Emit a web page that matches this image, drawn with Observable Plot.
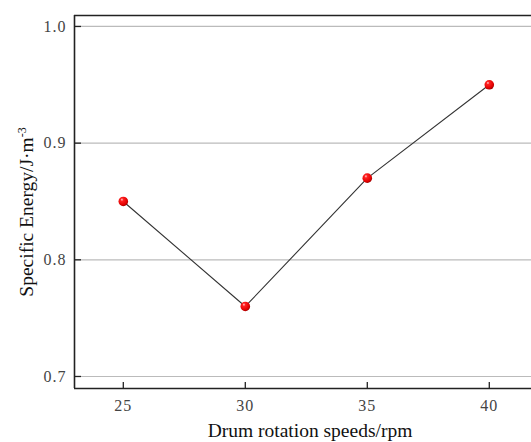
<!DOCTYPE html>
<html><head><meta charset="utf-8">
<script src="https://cdn.jsdelivr.net/npm/d3@7"></script>
<script src="https://cdn.jsdelivr.net/npm/@observablehq/plot@0.6"></script>
<style>body{margin:0;background:#fff}</style>
</head><body><div id="chart"></div>
<script>
const speeds = [25, 30, 35, 40];
const energy = [0.85, 0.76, 0.87, 0.95];
const yTicks = [0.7, 0.8, 0.9, 1.0];
const xTicks = [25, 30, 35, 40];
const xLabel = "Drum rotation speeds/rpm";
const yLabelMain = "Specific Energy/J·m";
const yLabelSup = "-3";

const data = speeds.map((s, i) => ({speed: s, energy: energy[i]}));
const xDomain = [23, 41.73];
const yDomain = [0.6897, 1.0094];
const font = "'Liberation Serif', 'DejaVu Serif', serif";

const plot = Plot.plot({
  width: 531, height: 442,
  marginLeft: 74, marginTop: 15, marginBottom: 54, marginRight: 0,
  style: {fontFamily: font, fontSize: "16px", color: "#333", background: "#fff"},
  x: {domain: xDomain},
  y: {domain: yDomain},
  marks: [
    Plot.gridY(yTicks, {stroke: "#bbb", strokeOpacity: 1, strokeWidth: 1.2}),
    Plot.axisY(yTicks, {tickSize: -7, tickPadding: 15, tickFormat: d3.format(".1f"), label: null, stroke: "#222", strokeWidth: 1.3, fontSize: 16, fill: "#444"}),
    Plot.axisX(xTicks, {tickSize: -6, tickPadding: 17, label: null, stroke: "#222", strokeWidth: 1.3, fontSize: 16, fill: "#444"}),
    Plot.ruleX([xDomain[0]], {stroke: "#222", strokeWidth: 1.6}),
    Plot.ruleY([yDomain[0], yDomain[1]], {stroke: "#222", strokeWidth: 1.6}),
    Plot.line(data, {x: "speed", y: "energy", stroke: "#333", strokeWidth: 1.1}),
    Plot.dot(data, {x: "speed", y: "energy", r: 4.8, fill: "url(#ball)", stroke: "none"})
  ]
});

const svg = d3.select(plot);
svg.selectAll("[aria-label='y-axis tick label'] text, [aria-label='x-axis tick label'] text").attr("letter-spacing", "1px");
const defs = svg.insert("defs", ":first-child");
const g = defs.append("radialGradient").attr("id", "ball").attr("cx", "0.4").attr("cy", "0.35").attr("r", "0.65").attr("fx", "0.35").attr("fy", "0.3");
g.append("stop").attr("offset", "0").attr("stop-color", "#ffd0d0");
g.append("stop").attr("offset", "0.25").attr("stop-color", "#ff2020");
g.append("stop").attr("offset", "0.8").attr("stop-color", "#e00000");
g.append("stop").attr("offset", "1").attr("stop-color", "#a00000");

svg.append("text")
  .attr("x", 310).attr("y", 437)
  .attr("text-anchor", "middle").attr("font-family", font).attr("font-size", 19.5).attr("fill", "#111")
  .text(xLabel);
const yt = svg.append("text")
  .attr("transform", "translate(33,212) rotate(-90)")
  .attr("text-anchor", "middle").attr("font-family", font).attr("font-size", 19.5).attr("fill", "#111");
yt.append("tspan").text(yLabelMain);
yt.append("tspan").attr("baseline-shift", "super").attr("font-size", 12).text(yLabelSup);

document.getElementById("chart").appendChild(plot);
</script></body></html>
